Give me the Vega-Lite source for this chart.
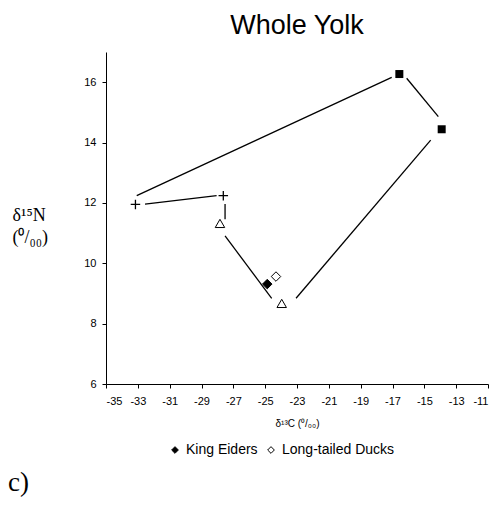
{
  "$schema": "https://vega.github.io/schema/vega-lite/v6.json",
  "background": "white",
  "padding": {"left": 8, "top": 12, "right": 0, "bottom": 5},
  "title": {"text": "c)", "orient": "bottom", "anchor": "start", "frame": "bounds", "font": "Liberation Serif", "fontSize": 27, "fontWeight": "normal", "color": "black", "offset": 13, "dx": -4},
  "datasets": {
    "segments": [
      {"seg": "A", "pt": 1, "x": -33.07, "y": 12.24},
      {"seg": "A", "pt": 2, "x": -17.05, "y": 16.16},
      {"seg": "B", "pt": 1, "x": -16.11, "y": 16.13},
      {"seg": "B", "pt": 2, "x": -14.12, "y": 14.86},
      {"seg": "C", "pt": 1, "x": -14.6, "y": 14.08},
      {"seg": "C", "pt": 2, "x": -23.06, "y": 8.84},
      {"seg": "D", "pt": 1, "x": -27.52, "y": 10.91},
      {"seg": "D", "pt": 2, "x": -24.59, "y": 8.84},
      {"seg": "E", "pt": 1, "x": -27.52, "y": 11.96},
      {"seg": "E", "pt": 2, "x": -27.52, "y": 11.46},
      {"seg": "F", "pt": 1, "x": -32.55, "y": 11.96},
      {"seg": "F", "pt": 2, "x": -28.05, "y": 12.24}
    ],
    "markers": [
      {"kind": "cross", "x": -33.15, "y": 11.95},
      {"kind": "cross", "x": -27.63, "y": 12.24},
      {"kind": "triangle", "x": -27.84, "y": 11.32},
      {"kind": "triangle", "x": -23.96, "y": 8.67},
      {"kind": "square", "x": -16.57, "y": 16.27},
      {"kind": "square", "x": -13.91, "y": 14.44}
    ],
    "ducks": [
      {"species": "King Eiders", "x": -24.87, "y": 9.31},
      {"species": "Long-tailed Ducks", "x": -24.32, "y": 9.56}
    ]
  },
  "vconcat": [
    {
      "width": 382,
      "height": 332,
      "title": {"text": "Whole Yolk", "font": "Liberation Sans", "fontSize": 27, "fontWeight": "normal", "anchor": "middle", "offset": 12, "color": "black"},
      "encoding": {
        "x": {
          "field": "x", "type": "quantitative",
          "scale": {"domain": [-35, -11], "nice": false, "zero": false},
          "axis": {
            "values": [-35, -33, -31, -29, -27, -25, -23, -21, -19, -17, -15, -13, -11],
            "labelExpr": "replace(datum.label, '−', '-')",
            "labelPadding": 7,
            "title": "δ¹³C (⁰/₀₀)",
            "titleFontSize": 10,
            "titlePadding": 12
          }
        },
        "y": {
          "field": "y", "type": "quantitative",
          "scale": {"domain": [6, 17], "nice": false, "zero": false},
          "axis": {
            "values": [6, 8, 10, 12, 14, 16],
            "labelPadding": 6,
            "title": ["δ¹⁵N", "(⁰/₀₀)"],
            "titleAngle": 0,
            "titleAlign": "left",
            "titleBaseline": "alphabetic",
            "titleX": -94,
            "titleY": 168,
            "titleFont": "Liberation Serif",
            "titleFontSize": 18,
            "titleLineHeight": 22
          }
        }
      },
      "layer": [
        {
          "data": {"name": "segments"},
          "mark": {"type": "line", "color": "black", "strokeWidth": 1.3},
          "encoding": {
            "detail": {"field": "seg"},
            "order": {"field": "pt", "type": "quantitative"}
          }
        },
        {
          "data": {"name": "markers"},
          "transform": [{"filter": "datum.kind === 'cross'"}],
          "mark": {"type": "point", "shape": "M-1,0H1M0,-1V1", "filled": false, "stroke": "black", "strokeWidth": 1.3, "size": 90, "opacity": 1}
        },
        {
          "data": {"name": "markers"},
          "transform": [{"filter": "datum.kind === 'triangle'"}],
          "mark": {"type": "point", "shape": "triangle-up", "filled": true, "fill": "white", "stroke": "black", "strokeWidth": 1, "size": 90, "opacity": 1}
        },
        {
          "data": {"name": "markers"},
          "transform": [{"filter": "datum.kind === 'square'"}],
          "mark": {"type": "point", "shape": "square", "filled": true, "fill": "black", "size": 64, "opacity": 1}
        },
        {
          "data": {"name": "ducks"},
          "mark": {"type": "point", "shape": "diamond", "filled": true, "stroke": "black", "strokeWidth": 1, "size": 90, "opacity": 1},
          "encoding": {
            "fill": {
              "field": "species", "type": "nominal",
              "scale": {"domain": ["King Eiders", "Long-tailed Ducks"], "range": ["black", "white"]},
              "legend": {
                "title": null,
                "orient": "none",
                "legendX": 62,
                "legendY": 391,
                "direction": "horizontal",
                "symbolType": "diamond",
                "symbolStrokeColor": "black",
                "symbolStrokeWidth": 1,
                "symbolSize": 45,
                "labelFontSize": 14,
                "labelOffset": 4,
                "columnPadding": 6
              }
            }
          }
        }
      ]
    }
  ],
  "config": {
    "font": "Liberation Sans",
    "view": {"stroke": null},
    "axis": {
      "grid": false,
      "domainColor": "black",
      "tickColor": "black",
      "tickSize": 4,
      "labelColor": "black",
      "labelFont": "Liberation Sans",
      "labelFontSize": 11,
      "titleColor": "black",
      "titleFont": "Liberation Sans",
      "titleFontWeight": "normal"
    },
    "legend": {
      "labelColor": "black",
      "labelFont": "Liberation Sans"
    }
  }
}
